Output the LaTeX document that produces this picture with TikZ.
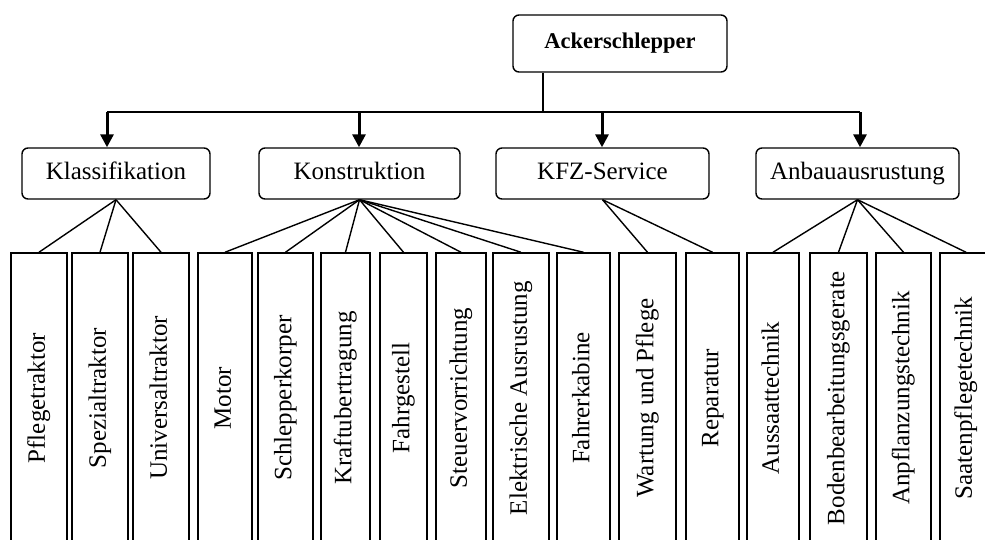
\documentclass[tikz,border=0pt]{standalone}
\usepackage{fontspec}
\setmainfont{Liberation Serif}
\usepackage{graphicx}
\usetikzlibrary{arrows.meta}
\tikzset{
  topbox/.style={draw, line width=1.4pt, rounded corners=6pt, minimum width=214pt, minimum height=57pt, inner sep=0pt, font=\fontsize{22.5}{26}\selectfont\bfseries},
  midbox/.style={draw, line width=1.4pt, rounded corners=6pt, minimum height=51pt, inner sep=0pt, text height=17pt, text depth=5pt, font=\fontsize{25}{29}\selectfont},
  leafbox/.style={draw, line width=1.5pt, minimum height=290pt, inner sep=0pt, font=\fontsize{25}{29}\selectfont},
  link/.style={line width=1.4pt},
  bigarrow/.style={line width=3pt, -{Triangle[length=13pt,width=13pt]}},
}
\newcommand{\vtext}[1]{\rotatebox{90}{\strut #1}}
\begin{document}
\begin{tikzpicture}[x=1pt,y=-1pt]
\useasboundingbox (0,0) rectangle (985,539);
\clip (0,0) rectangle (985,539);
% top
\node[topbox] (top) at (620,43.5) {Ackerschlepper};
% mid boxes
\node[midbox, minimum width=188pt] (k1) at (116,173.5) {Klassifikation};
\node[midbox, minimum width=201pt] (k2) at (359.5,173.5) {Konstruktion};
\node[midbox, minimum width=213pt] (k3) at (602.5,173.5) {KFZ-Service};
\node[midbox, minimum width=203pt] (k4) at (857.5,173.5) {Anbauausrustung};
% bar
\coordinate (stem) at (543,112);
\coordinate (a1) at (107,112);
\coordinate (a2) at (359,112);
\coordinate (a3) at (602,112);
\coordinate (a4) at (860,112);
\draw[link] (top.south -| stem) -- (stem);
\draw[link] (a1) -- (a4);
\draw[bigarrow] (a1) -- (a1 |- k1.north);
\draw[bigarrow] (a2) -- (a2 |- k2.north);
\draw[bigarrow] (a3) -- (a3 |- k3.north);
\draw[bigarrow] (a4) -- (a4 |- k4.north);
% leaves
\node[leafbox, minimum width=56pt] (l1) at (39,398) {\vtext{Pflegetraktor}};
\node[leafbox, minimum width=56pt] (l2) at (100,398) {\vtext{Spezialtraktor}};
\node[leafbox, minimum width=56pt] (l3) at (161,398) {\vtext{Universaltraktor}};
\node[leafbox, minimum width=54pt] (l4) at (225,398) {\vtext{Motor}};
\node[leafbox, minimum width=55pt] (l5) at (285.5,398) {\vtext{Schlepperkorper}};
\node[leafbox, minimum width=49pt] (l6) at (345.5,398) {\vtext{Kraftubertragung}};
\node[leafbox, minimum width=47pt] (l7) at (403.5,398) {\vtext{Fahrgestell}};
\node[leafbox, minimum width=50pt] (l8) at (461,398) {\vtext{Steuervorrichtung}};
\node[leafbox, minimum width=56pt] (l9) at (521,398) {\vtext{Elektrische Ausrustung}};
\node[leafbox, minimum width=53pt] (l10) at (583.5,398) {\vtext{Fahrerkabine}};
\node[leafbox, minimum width=57pt] (l11) at (647.5,398) {\vtext{Wartung und Pflege}};
\node[leafbox, minimum width=53pt] (l12) at (712.5,398) {\vtext{Reparatur}};
\node[leafbox, minimum width=52pt] (l13) at (773,398) {\vtext{Aussaattechnik}};
\node[leafbox, minimum width=57pt] (l14) at (838.5,398) {\vtext{Bodenbearbeitungsgerate}};
\node[leafbox, minimum width=55pt] (l15) at (903.5,398) {\vtext{Anpflanzungstechnik}};
\node[leafbox, minimum width=52pt] (l16) at (966,398) {\vtext{Saatenpflegetechnik}};
% links
\foreach \i in {1,2,3} \draw[link] (k1.south) -- (l\i.north);
\foreach \i in {4,5,6,7,8,9,10} \draw[link] (k2.south) -- (l\i.north);
\foreach \i in {11,12} \draw[link] (k3.south) -- (l\i.north);
\foreach \i in {13,14,15,16} \draw[link] (k4.south) -- (l\i.north);
\end{tikzpicture}
\end{document}
